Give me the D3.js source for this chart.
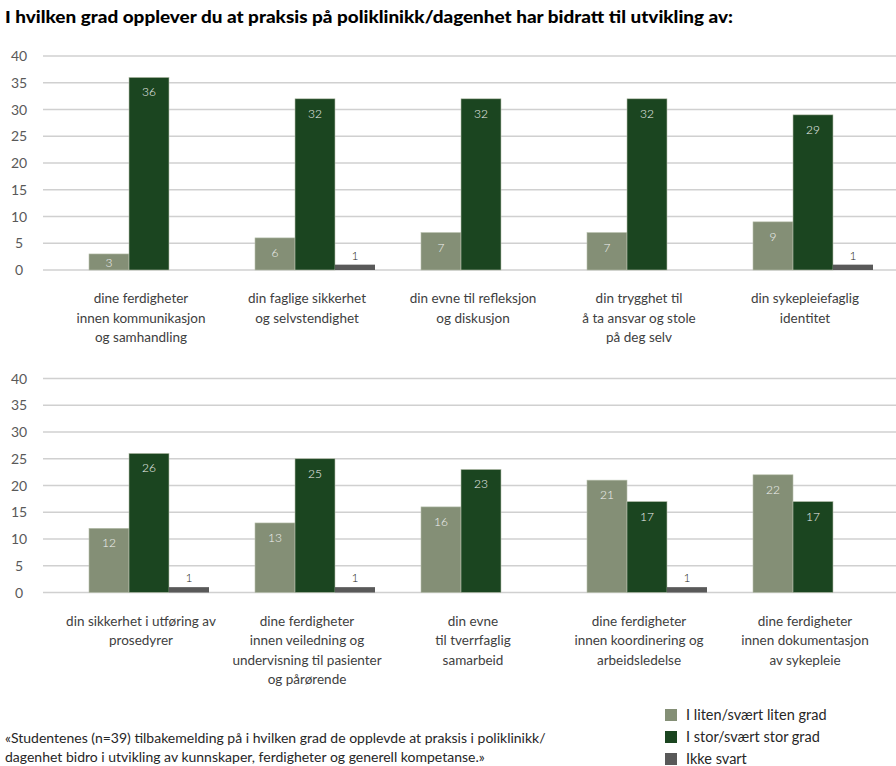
<!DOCTYPE html>
<html>
<head>
<meta charset="utf-8">
<script src="https://cdn.jsdelivr.net/npm/d3@7"></script>
<style>
  body { margin: 0; background: #fff; }
  svg { display: block; font-family: Lato, "Open Sans", sans-serif; }
</style>
</head>
<body>
<div id="chart"></div>
<script>
const title = "I hvilken grad opplever du at praksis på poliklinikk/dagenhet har bidratt til utvikling av:";
const seriesNames = ["I liten/svært liten grad", "I stor/svært stor grad", "Ikke svart"];
const seriesColors = ["#848f76", "#1b4520", "#595959"];

const topCategories = [
  "dine ferdigheter\ninnen kommunikasjon\nog samhandling",
  "din faglige sikkerhet\nog selvstendighet",
  "din evne til refleksjon\nog diskusjon",
  "din trygghet til\nå ta ansvar og stole\npå deg selv",
  "din sykepleiefaglig\nidentitet"
];
const topLow = [3, 6, 7, 7, 9];
const topHigh = [36, 32, 32, 32, 29];
const topNone = [null, 1, null, null, 1];

const bottomCategories = [
  "din sikkerhet i utføring av\nprosedyrer",
  "dine ferdigheter\ninnen veiledning og\nundervisning til pasienter\nog pårørende",
  "din evne\ntil tverrfaglig\nsamarbeid",
  "dine ferdigheter\ninnen koordinering og\narbeidsledelse",
  "dine ferdigheter\ninnen dokumentasjon\nav sykepleie"
];
const bottomLow = [12, 13, 16, 21, 22];
const bottomHigh = [26, 25, 23, 17, 17];
const bottomNone = [1, 1, null, 1, null];

const yTicks = [0, 5, 10, 15, 20, 25, 30, 35, 40];

const caption = [
  "«Studentenes (n=39) tilbakemelding på i hvilken grad de opplevde at praksis i poliklinikk/",
  "dagenhet bidro i utvikling av kunnskaper, ferdigheter og generell kompetanse.»"
];

const width = 896, height = 766;
const svg = d3.select("#chart").append("svg")
  .attr("width", width).attr("height", height);

svg.append("text")
  .attr("x", 5).attr("y", 23)
  .attr("font-weight", 900)
  .attr("font-size", 17)
  .attr("textLength", 728)
  .attr("lengthAdjust", "spacingAndGlyphs")
  .attr("fill", "#000")
  .text(title);

function panel(categories, low, high, none, top, bottom) {
  let g = svg.append("g");
  let y = d3.scaleLinear().domain([0, 40]).range([bottom, top]);
  let x0 = d3.scaleBand().domain(categories).range([66, 896]);
  let x1 = d3.scaleBand().domain(seriesNames)
             .range([(x0.bandwidth() - 120) / 2, (x0.bandwidth() + 120) / 2]);

  // grid
  g.append("g").selectAll("line")
    .data(yTicks)
    .join("line")
    .attr("x1", 43).attr("x2", width)
    .attr("y1", d => y(d)).attr("y2", d => y(d))
    .attr("stroke", "#d0d0d0")
    .attr("stroke-width", 1.5);

  g.append("g").selectAll("text")
    .data(yTicks)
    .join("text")
    .attr("x", 19).attr("y", d => y(d) + 5)
    .attr("text-anchor", "middle")
    .attr("font-size", 14)
    .attr("fill", "#595959")
    .text(d => d);

  let rows = [];
  categories.forEach((c, i) => {
    [low[i], high[i], none[i]].forEach((v, j) => {
      if (v != null) rows.push({cat: c, s: seriesNames[j], j: j, v: v});
    });
  });

  g.append("g").selectAll("rect")
    .data(rows)
    .join("rect")
    .attr("x", d => x0(d.cat) + x1(d.s))
    .attr("y", d => y(d.v))
    .attr("width", x1.bandwidth())
    .attr("height", d => y(0) - y(d.v))
    .attr("fill", d => seriesColors[d.j])
    .attr("stroke", d => d.j == 2 ? "none" : "#b8c0ad")
    .attr("stroke-width", 0.6);

  g.append("g").selectAll("text")
    .data(rows)
    .join("text")
    .attr("x", d => x0(d.cat) + x1(d.s) + x1.bandwidth() / 2)
    .attr("y", d => d.j == 2 ? y(d.v) - 5 : Math.min(y(d.v) + 19, y(0) - 3))
    .attr("text-anchor", "middle")
    .attr("font-size", 12)
    .attr("font-weight", 300)
    .attr("fill", d => d.j == 2 ? "#222" : "#f2f2f2")
    .text(d => d.v);

  // category labels
  let lab = g.append("g").selectAll("text")
    .data(categories)
    .join("text")
    .attr("text-anchor", "middle")
    .attr("font-size", 13.5)
    .attr("fill", "#404040")
    .attr("x", d => x0(d) + x0.bandwidth() / 2 - 8)
    .attr("y", bottom + 33);
  lab.selectAll("tspan")
    .data(d => d.split("\n"))
    .join("tspan")
    .attr("x", function() { return this.parentNode.getAttribute("x"); })
    .attr("dy", (d, i) => i ? 19.5 : 0)
    .text(d => d);
}

panel(topCategories, topLow, topHigh, topNone, 56, 270);
panel(bottomCategories, bottomLow, bottomHigh, bottomNone, 378.5, 592.5);

// caption
svg.append("g").selectAll("text")
  .data(caption)
  .join("text")
  .attr("x", 5)
  .attr("y", (d, i) => 743 + i * 19)
  .attr("font-size", 14)
  .attr("fill", "#262626")
  .text(d => d);

// legend
let leg = svg.append("g").selectAll("g")
  .data(seriesNames)
  .join("g")
  .attr("transform", (d, i) => `translate(665, ${709 + i * 22})`);
leg.append("rect")
  .attr("width", 12).attr("height", 12)
  .attr("fill", (d, i) => seriesColors[i]);
leg.append("text")
  .attr("x", 21).attr("y", 11)
  .attr("font-size", 14.5)
  .attr("fill", "#262626")
  .text(d => d);
</script>
</body>
</html>
